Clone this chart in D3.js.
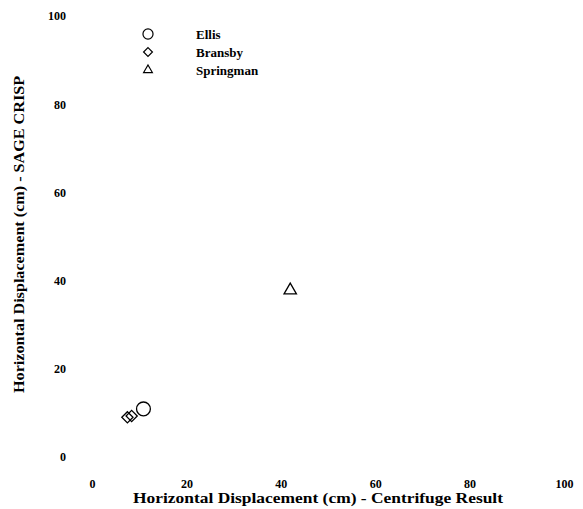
<!DOCTYPE html>
<html>
<head>
<meta charset="utf-8">
<script src="https://cdn.jsdelivr.net/npm/d3@7"></script>
<style>
  html, body { margin: 0; padding: 0; background: #fff; }
  svg { display: block; }
  svg text { font-family: "Liberation Serif", "DejaVu Serif", "Times New Roman", serif !important; font-weight: bold; fill: #000; }
</style>
</head>
<body>
<svg id="chart" width="583" height="509"></svg>
<script>
// ---- data ----
const xTicks = [0, 20, 40, 60, 80, 100];
const yTicks = [0, 20, 40, 60, 80, 100];
const seriesNames = ["Ellis", "Bransby", "Springman"];
const ellisX = [10.9];
const ellisY = [10.9];
const bransbyX = [7.5, 8.4];
const bransbyY = [9.0, 9.3];
const springmanX = [42.0];
const springmanY = [37.8];
const xTitle = "Horizontal Displacement (cm) - Centrifuge Result";
const yTitle = "Horizontal Displacement (cm) - SAGE CRISP";

// ---- layout ----
const FONT = '"Liberation Serif", "DejaVu Serif", serif';
const svg = d3.select("#chart");
const x = d3.scaleLinear().domain([0, 100]).range([92, 564]);
const y = d3.scaleLinear().domain([0, 100]).range([457, 16]);

const symbols = {
  Ellis: d3.symbol().type(d3.symbolCircle).size(150),
  Bransby: d3.symbol().type(d3.symbolDiamond2).size(80),
  Springman: d3.symbol().type(d3.symbolTriangle2).size(110)
};

// x axis (labels only)
const xAxis = svg.append("g").attr("transform", "translate(0,479)")
  .call(d3.axisBottom(x).tickValues(xTicks).tickSize(0).tickPadding(0).tickFormat(d3.format("d")));
xAxis.attr("font-family", FONT).attr("font-size", 12);
xAxis.select(".domain").remove();
xAxis.selectAll("text").attr("dy", "0.71em");

// y axis (labels only)
const yAxis = svg.append("g").attr("transform", "translate(66,0)")
  .call(d3.axisLeft(y).tickValues(yTicks).tickSize(0).tickPadding(0).tickFormat(d3.format("d")));
yAxis.attr("font-family", FONT).attr("font-size", 12);
yAxis.select(".domain").remove();

// axis titles
svg.append("text").attr("x", 318).attr("y", 503).attr("text-anchor", "middle")
  .attr("font-family", FONT).attr("font-size", 15)
  .attr("textLength", 370).attr("lengthAdjust", "spacingAndGlyphs")
  .text(xTitle);
svg.append("text").attr("transform", "translate(24,234.5) rotate(-90)").attr("text-anchor", "middle")
  .attr("font-family", FONT).attr("font-size", 15)
  .attr("textLength", 317).attr("lengthAdjust", "spacingAndGlyphs")
  .text(yTitle);

// marks
const marks = svg.append("g").attr("fill", "none").attr("stroke", "#000").attr("stroke-width", 1.3);
const series = [
  { name: "Ellis", xs: ellisX, ys: ellisY },
  { name: "Bransby", xs: bransbyX, ys: bransbyY },
  { name: "Springman", xs: springmanX, ys: springmanY }
];
series.forEach(s => {
  s.xs.forEach((v, i) => {
    marks.append("path")
      .attr("d", symbols[s.name]())
      .attr("transform", `translate(${x(v)},${y(s.ys[i])})`);
  });
});

// legend
const legend = svg.append("g");
const legendSym = {
  Ellis: d3.symbol().type(d3.symbolCircle).size(80),
  Bransby: d3.symbol().type(d3.symbolDiamond2).size(50),
  Springman: d3.symbol().type(d3.symbolTriangle2).size(55)
};
seriesNames.forEach((n, i) => {
  const ly = 34 + i * 18;
  legend.append("path").attr("d", legendSym[n]())
    .attr("transform", `translate(148,${ly})`)
    .attr("fill", "none").attr("stroke", "#000").attr("stroke-width", 1.2);
  legend.append("text").attr("x", 196).attr("y", ly).attr("dy", "0.35em")
    .attr("font-family", FONT).attr("font-size", 13).text(n);
});
</script>
</body>
</html>
